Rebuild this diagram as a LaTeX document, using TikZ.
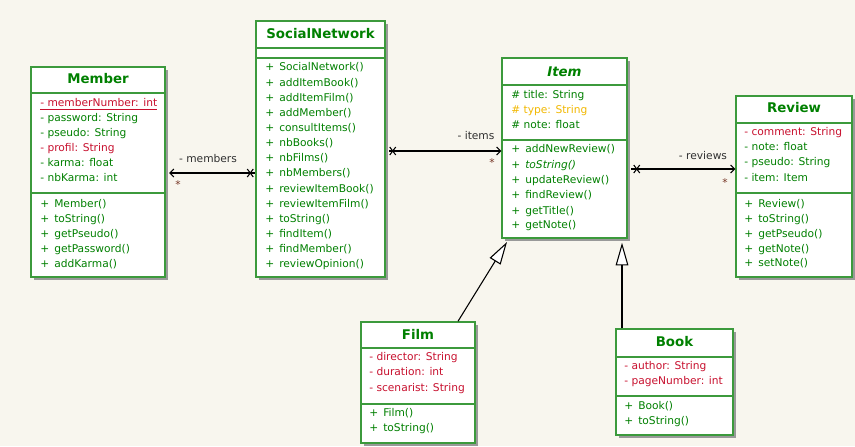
\documentclass[tikz,border=0pt]{standalone}
\usepackage{fontspec}
\setmainfont{DejaVu Sans}
\usetikzlibrary{arrows.meta,shadows,fit,calc}
\definecolor{bg}{HTML}{F8F6EE}
\definecolor{boxgreen}{HTML}{3C9A3C}
\definecolor{txtgreen}{HTML}{008000}
\definecolor{txtred}{HTML}{C8102E}
\definecolor{txtorange}{HTML}{F2B800}
\definecolor{lbl}{HTML}{303030}
\definecolor{star}{HTML}{7A3A2A}
\newcommand\mth[1]{\makebox[10.5pt][l]{+}#1}
\tikzset{
  cbox/.style={draw=boxgreen, line width=1.1pt, fill=white, inner sep=0pt,
    drop shadow={shadow xshift=2.2pt, shadow yshift=-2.2pt, fill=black!40, opacity=1}},
  cline/.style={draw=boxgreen, line width=1.1pt},
  ctitle/.style={font=\fontsize{10}{12}\selectfont\bfseries, text=txtgreen, inner sep=0pt},
  attr/.style={font=\fontsize{8}{10}\selectfont, anchor=west, inner sep=0pt, text height=6pt, text depth=1.7pt},
  gattr/.style={attr, text=txtgreen},
  rattr/.style={attr, text=txtred},
  oattr/.style={attr, text=txtorange},
  assoc/.style={line width=0.8pt, draw=black},
  xmark/.style={line width=0.8pt, draw=black},
  gen/.style={line width=0.8pt, draw=black, -{Triangle[open, fill=white, length=17pt, width=9.5pt, line width=0.8pt]}},
  rlbl/.style={font=\fontsize{8}{10}\selectfont, text=lbl, inner sep=0pt},
  slbl/.style={font=\fontsize{8}{10}\selectfont, text=star, inner sep=0pt},
}
\begin{document}
\begin{tikzpicture}[x=0.75pt,y=-0.75pt]
\fill[bg] (0,0) rectangle (855,446);
\useasboundingbox (0,0) rectangle (855,446);

% ---------- Member ----------
\node[cbox, fit={(31,67) (165,277)}] (member) {};
\node[ctitle] (member-t) at (98,79) {Member};
\draw[cline] (31,93) -- (165,93);
\draw[cline] (31,193) -- (165,193);
\node[rattr] (member-a1) at (40,104) {\underline{- memberNumber: int}};
\node[gattr] (member-a2) at (40,119) {- password: String};
\node[gattr] (member-a3) at (40,134) {- pseudo: String};
\node[rattr] (member-a4) at (40,149) {- profil: String};
\node[gattr] (member-a5) at (40,164) {- karma: float};
\node[gattr] (member-a6) at (40,179) {- nbKarma: int};
\foreach \t [count=\i] in {Member(),toString(),getPseudo(),getPassword(),addKarma()}
  \node[gattr] (member-m\i) at (40,{205+14.8*(\i-1)}) {\mth{\t}};

% ---------- SocialNetwork ----------
\node[cbox, fit={(256,21) (385,277)}] (sn) {};
\node[ctitle] (sn-t) at (320.5,34) {SocialNetwork};
\draw[cline] (256,48) -- (385,48);
\draw[cline] (256,58) -- (385,58);
\foreach \t [count=\i] in {SocialNetwork(),addItemBook(),addItemFilm(),addMember(),consultItems(),nbBooks(),nbFilms(),nbMembers(),reviewItemBook(),reviewItemFilm(),toString(),findItem(),findMember(),reviewOpinion()}
  \node[gattr] (sn-m\i) at (265,{68+15.15*(\i-1)}) {\mth{\t}};

% ---------- Item ----------
\node[cbox, fit={(502,58) (627,238)}] (item) {};
\node[ctitle] (item-t) at (564.5,72) {\itshape Item};
\draw[cline] (502,85) -- (627,85);
\draw[cline] (502,140) -- (627,140);
\node[gattr] (item-a1) at (511,96) {\# title: String};
\node[oattr] (item-a2) at (511,111) {\# type: String};
\node[gattr] (item-a3) at (511,126) {\# note: float};
\node[gattr] (item-m1) at (511,150) {\mth{addNewReview()}};
\node[gattr] (item-m2) at (511,165.5) {\itshape\mth{toString()}};
\node[gattr] (item-m3) at (511,181) {\mth{updateReview()}};
\node[gattr] (item-m4) at (511,196) {\mth{findReview()}};
\node[gattr] (item-m5) at (511,211.5) {\mth{getTitle()}};
\node[gattr] (item-m6) at (511,226) {\mth{getNote()}};

% ---------- Review ----------
\node[cbox, fit={(736,96) (852,277)}] (review) {};
\node[ctitle] (review-t) at (794,108) {Review};
\draw[cline] (736,123) -- (852,123);
\draw[cline] (736,193) -- (852,193);
\node[rattr] (review-a1) at (744,133) {- comment: String};
\node[gattr] (review-a2) at (744,148) {- note: float};
\node[gattr] (review-a3) at (744,163) {- pseudo: String};
\node[gattr] (review-a4) at (744,178.5) {- item: Item};
\foreach \t [count=\i] in {Review(),toString(),getPseudo(),getNote(),setNote()}
  \node[gattr] (review-m\i) at (744,{205+14.75*(\i-1)}) {\mth{\t}};

% ---------- Film ----------
\node[cbox, fit={(361,322) (475,443)}] (film) {};
\node[ctitle] (film-t) at (418,334) {Film};
\draw[cline] (361,348) -- (475,348);
\draw[cline] (361,404) -- (475,404);
\node[rattr] (film-a1) at (369,358) {- director: String};
\node[rattr] (film-a2) at (369,373) {- duration: int};
\node[rattr] (film-a3) at (369,388.5) {- scenarist: String};
\node[gattr] (film-m1) at (369,414) {\mth{Film()}};
\node[gattr] (film-m2) at (369,429) {\mth{toString()}};

% ---------- Book ----------
\node[cbox, fit={(616,329) (733,435)}] (book) {};
\node[ctitle] (book-t) at (674.5,342) {Book};
\draw[cline] (616,357) -- (733,357);
\draw[cline] (616,396) -- (733,396);
\node[rattr] (book-a1) at (624,367) {- author: String};
\node[rattr] (book-a2) at (624,382) {- pageNumber: int};
\node[gattr] (book-m1) at (624,407) {\mth{Book()}};
\node[gattr] (book-m2) at (624,422) {\mth{toString()}};

% ---------- associations ----------
\coordinate (ym) at (0,173);
\coordinate (yi) at (0,151);
\coordinate (yr) at (0,169);
% members
\draw[assoc, {Straight Barb[length=3pt,width=6pt,line width=0.8pt]}-, shorten <=2.5pt]
  (member.east |- ym) -- (sn.west |- ym);
\draw[xmark] ($(sn.west |- ym)+(-8,-4)$) -- ++(6,8);
\draw[xmark] ($(sn.west |- ym)+(-8,4)$) -- ++(6,-8);
\node[rlbl] (lbl-members) at (208,159) {- members};
\node[slbl] (star-members) at (178,185) {*};
% items
\draw[assoc, -{Straight Barb[length=3pt,width=6pt,line width=0.8pt]}, shorten <=2.5pt]
  (sn.east |- yi) -- (item.west |- yi);
\draw[xmark] ($(sn.east |- yi)+(4,-4)$) -- ++(6,8);
\draw[xmark] ($(sn.east |- yi)+(4,4)$) -- ++(6,-8);
\node[rlbl] (lbl-items) at (476,136) {- items};
\node[slbl] (star-items) at (492,163) {*};
% reviews
\draw[assoc, -{Straight Barb[length=3pt,width=6pt,line width=0.8pt]}, shorten <=2.5pt]
  (item.east |- yr) -- (review.west |- yr);
\draw[xmark] ($(item.east |- yr)+(6,-4)$) -- ++(6,8);
\draw[xmark] ($(item.east |- yr)+(6,4)$) -- ++(6,-8);
\node[rlbl] (lbl-reviews) at (703,156) {- reviews};
\node[slbl] (star-reviews) at (725,183) {*};

% ---------- generalizations ----------
\coordinate (gf) at (458,0);
\coordinate (gft) at (507,242);
\draw[gen] (film.north -| gf) -- (gft);
\coordinate (gb) at (622,0);
\draw[gen] (book.north -| gb) -- ($(item.south -| gb)+(0,4)$);
\end{tikzpicture}
\end{document}
